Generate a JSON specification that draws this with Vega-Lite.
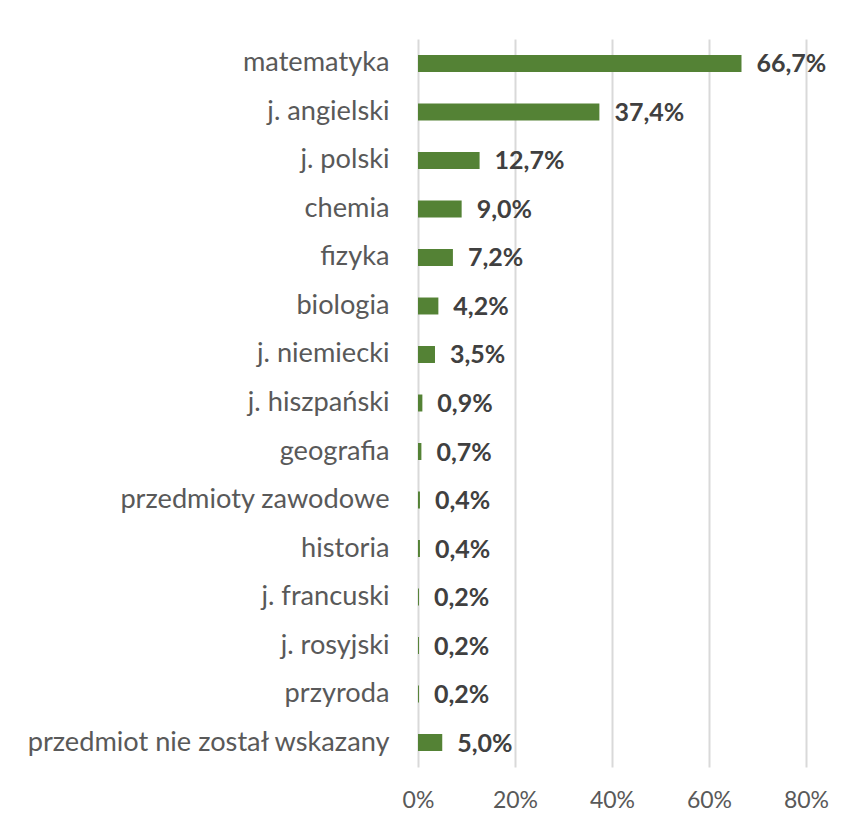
{
  "$schema": "https://vega.github.io/schema/vega-lite/v6.json",
  "width": 388,
  "height": 728,
  "autosize": {"type": "none"},
  "padding": {"left": 418, "top": 39, "right": 44, "bottom": 62},
  "background": "white",
  "config": {
    "locale": {"number": {"decimal": ",", "thousands": " ", "grouping": [3], "currency": ["", " zł"]}},
    "view": {"stroke": null},
    "font": "Lato"
  },
  "data": {
    "values": [
      {"przedmiot": "matematyka", "udzial": 0.667},
      {"przedmiot": "j. angielski", "udzial": 0.374},
      {"przedmiot": "j. polski", "udzial": 0.127},
      {"przedmiot": "chemia", "udzial": 0.090},
      {"przedmiot": "fizyka", "udzial": 0.072},
      {"przedmiot": "biologia", "udzial": 0.042},
      {"przedmiot": "j. niemiecki", "udzial": 0.035},
      {"przedmiot": "j. hiszpański", "udzial": 0.009},
      {"przedmiot": "geografia", "udzial": 0.007},
      {"przedmiot": "przedmioty zawodowe", "udzial": 0.004},
      {"przedmiot": "historia", "udzial": 0.004},
      {"przedmiot": "j. francuski", "udzial": 0.002},
      {"przedmiot": "j. rosyjski", "udzial": 0.002},
      {"przedmiot": "przyroda", "udzial": 0.002},
      {"przedmiot": "przedmiot nie został wskazany", "udzial": 0.050}
    ]
  },
  "encoding": {
    "y": {
      "field": "przedmiot", "type": "nominal", "sort": null, "title": null,
      "scale": {"paddingInner": 0.65, "paddingOuter": 0.33},
      "axis": {"ticks": false, "domain": false, "labelPadding": 29, "labelFontSize": 27.2, "labelColor": "#595959", "labelFont": "Lato", "labelLimit": 500}
    },
    "x": {
      "field": "udzial", "type": "quantitative", "title": null,
      "scale": {"domain": [0, 0.8], "nice": false},
      "axis": {"format": ".0%", "values": [0, 0.2, 0.4, 0.6, 0.8], "ticks": false, "domain": false, "labelFlush": false, "labelPadding": 22, "labelFontSize": 23, "labelColor": "#595959", "gridColor": "#d9d9d9", "gridWidth": 2, "labelFont": "Lato"}
    }
  },
  "layer": [
    {"mark": {"type": "bar", "color": "#548235"}},
    {
      "mark": {"type": "text", "align": "left", "baseline": "middle", "dx": 15, "dy": 1, "fontSize": 25, "fontWeight": "bold", "color": "#404040", "font": "Lato"},
      "encoding": {"text": {"field": "udzial", "type": "quantitative", "format": ".1%"}}
    }
  ]
}
